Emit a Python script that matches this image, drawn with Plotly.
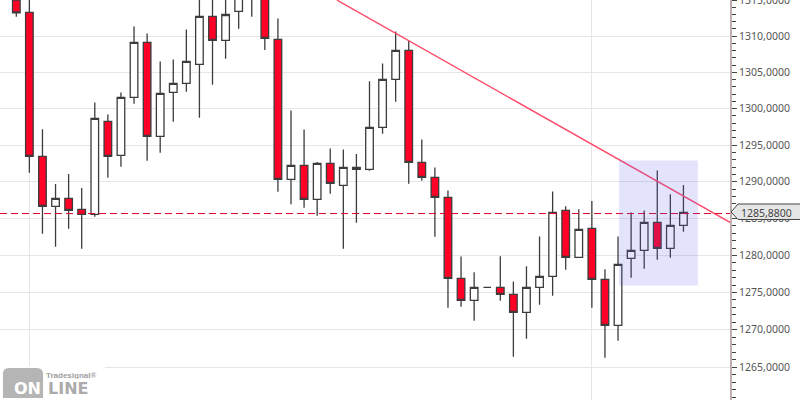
import numpy as np
import plotly.graph_objects as go

# Candle prices, one row per bar
opens = [1315.00, 1313.28, 1293.46, 1286.65, 1287.74, 1286.25, 1285.56, 1298.25, 1293.60, 1301.55,
         1309.13, 1296.20, 1302.23, 1303.47, 1306.09, 1312.73, 1309.41, 1313.42, 1316.30, 1317.00,
         1309.54, 1290.33, 1292.23, 1287.61, 1292.51, 1289.51, 1291.96, 1291.69, 1297.43, 1304.02,
         1308.02, 1292.65, 1290.60, 1287.88, 1276.91, 1273.95, 1275.69, 1275.69, 1274.76, 1272.34,
         1275.69, 1277.18, 1286.11, 1279.75, 1283.67, 1276.77, 1270.59, 1279.61, 1280.69, 1284.48,
         1280.96, 1284.07]
highs = [1316.40, 1315.50, 1297.19, 1289.69, 1291.05, 1289.14, 1300.86, 1299.21, 1302.23, 1311.34,
         1310.37, 1306.51, 1306.78, 1310.93, 1315.41, 1316.00, 1315.00, 1317.00, 1317.20, 1318.00,
         1312.45, 1299.76, 1297.15, 1292.69, 1294.55, 1294.42, 1293.78, 1303.79, 1306.23, 1310.65,
         1309.35, 1295.79, 1291.96, 1288.82, 1279.87, 1277.72, 1275.69, 1279.91, 1276.50, 1278.53,
         1282.58, 1288.69, 1286.69, 1286.25, 1287.37, 1278.13, 1282.58, 1285.84, 1286.11, 1291.55,
         1288.32, 1289.55]
lows = [1312.67, 1291.23, 1282.94, 1281.17, 1283.61, 1280.90, 1285.24, 1290.55, 1292.04, 1300.67,
        1292.86, 1293.96, 1298.20, 1302.32, 1298.75, 1303.28, 1306.86, 1311.01, 1312.67, 1308.10,
        1288.64, 1286.93, 1286.46, 1285.38, 1288.36, 1280.90, 1284.43, 1291.50, 1296.55, 1300.94,
        1289.73, 1290.13, 1282.53, 1272.95, 1273.09, 1271.20, 1275.69, 1273.89, 1266.38, 1268.79,
        1273.36, 1274.56, 1278.07, 1279.75, 1272.95, 1266.26, 1268.53, 1276.99, 1278.21, 1279.42,
        1279.69, 1283.21]
closes = [1313.23, 1293.46, 1286.65, 1287.74, 1286.11, 1285.56, 1298.66, 1293.46, 1301.55, 1309.13,
          1296.20, 1302.10, 1303.47, 1306.51, 1312.73, 1309.41, 1313.00, 1315.50, 1315.40, 1309.68,
          1290.33, 1292.23, 1287.61, 1292.51, 1289.78, 1291.96, 1291.69, 1297.43, 1304.02, 1308.02,
          1292.65, 1290.60, 1287.88, 1276.91, 1273.95, 1275.69, 1275.69, 1274.76, 1272.34, 1275.69,
          1277.18, 1285.84, 1279.75, 1283.53, 1276.77, 1270.59, 1278.80, 1280.69, 1284.48, 1280.96,
          1284.07, 1285.84]
bars = list(range(len(closes)))

last_price = 1285.88
last_line_level = 1285.68  # where the dashed line sits in the picture
price_ticks = [1265, 1270, 1275, 1280, 1285, 1290, 1295, 1300, 1305, 1310, 1315]
minor_ticks = list(range(1261, 1316))
tick_labels = [f'{p},0000' for p in price_ticks]
month_bars = [1, 44]

# trend line and highlighted box, in bar index / price
trend_x = [24.52, 54.56]
trend_y = [1314.99, 1284.48]
box_x = [46.08, 52.1]
box_y = [1275.94, 1292.89]

fig = go.Figure()

fig.add_trace(go.Candlestick(
    x=bars, open=opens, high=highs, low=lows, close=closes,
    increasing=dict(line=dict(color='#3c3c3c', width=1.3), fillcolor='#ffffff'),
    decreasing=dict(line=dict(color='#3c3c3c', width=1.3), fillcolor='#ff0026'),
    whiskerwidth=0,
    showlegend=False
))

# Trend line
fig.add_trace(go.Scatter(
    x=trend_x, y=trend_y, mode='lines',
    line=dict(color='#ff4a68', width=1.4),
    showlegend=False
))

# Last price line
fig.add_trace(go.Scatter(
    x=[-1.246, 54.56], y=[last_line_level, last_line_level], mode='lines',
    line=dict(color='#e0002a', width=1, dash='7px,4px'),
    showlegend=False
))

# Highlight box, drawn over the candles
fig.add_shape(type='rect', x0=box_x[0], x1=box_x[1], y0=box_y[0], y1=box_y[1],
              xref='x', yref='y', fillcolor='rgba(90,90,235,0.17)', line=dict(width=0), layer='above')

# Last price tag on the axis
fig.add_shape(type='path', xref='paper', yref='paper', layer='above',
              path='M 1.0014 0.47 L 1.011 0.4513 L 1.11 0.4513 L 1.11 0.49 L 1.011 0.49 Z',
              fillcolor='#e6e6e6', line=dict(color='#444444', width=1))
fig.add_annotation(x=739 / 730, y=0.4685, xref='paper', yref='paper', xanchor='left', yanchor='middle',
                   text=f'{last_price:.4f}'.replace('.', ','), showarrow=False,
                   font=dict(family='Noto Sans', size=10.5, color='#444444'))

# Logo bottom left, white patch hides the grid behind it
fig.add_shape(type='rect', xref='paper', yref='paper', x0=0, x1=105 / 730, y0=0, y1=0.085,
              fillcolor='#ffffff', line=dict(width=0), layer='above')
fig.add_shape(type='path', xref='paper', yref='paper', layer='above',
              path='M 0.004 0.005 L 0.004 0.065 Q 0.004 0.08 0.012 0.08 L 0.05 0.08 Q 0.059 0.08 0.059 0.065 L 0.059 0.005 Z',
              fillcolor='#b5b5b5', line=dict(width=0))
fig.add_annotation(x=12 / 730, y=0.03, xref='paper', yref='paper', xanchor='left', yanchor='middle',
                   text='<b>ON</b>', showarrow=False, height=12,
                   font=dict(family='DejaVu Sans', size=16, color='#ffffff'))
fig.add_annotation(x=46 / 730, y=0.03, xref='paper', yref='paper', xanchor='left', yanchor='middle',
                   text='<b>LINE</b>', showarrow=False, height=12,
                   font=dict(family='DejaVu Sans', size=16, color='#ababab'))
fig.add_annotation(x=44 / 730, y=0.0625, xref='paper', yref='paper', xanchor='left', yanchor='middle',
                   text='<b>Tradesignal®</b>', showarrow=False, height=8,
                   font=dict(family='Liberation Sans', size=8, color='#a0a0a0'))

fig.update_layout(
    width=800,
    height=400,
    margin=dict(l=0, r=70, t=0, b=0, autoexpand=False),
    paper_bgcolor='white',
    plot_bgcolor='white',
    showlegend=False,
    boxgroupgap=0.17,
    xaxis=dict(
        range=[-1.246, 54.56],
        rangeslider=dict(visible=False),
        tickvals=month_bars,
        showticklabels=False,
        ticks='',
        showgrid=True,
        gridcolor='#e6e6e6',
        gridwidth=1,
        zeroline=False
    ),
    yaxis=dict(
        type='log',
        side='right',
        range=[np.log10(1260.61), np.log10(1315.01)],
        tickvals=price_ticks,
        ticktext=tick_labels,
        ticks='outside',
        ticklen=5,
        tickcolor='#444444',
        tickfont=dict(family='Noto Sans', size=10.5, color='#555555'),
        ticklabeloverflow='allow',
        showgrid=True,
        gridcolor='#e6e6e6',
        gridwidth=1,
        zeroline=False,
        showline=True,
        linecolor='#bfaeae',
        linewidth=2,
        minor=dict(tickvals=minor_ticks, ticks='outside', ticklen=4, tickcolor='#444444', showgrid=False)
    )
)

fig.write_html("out.html", config=dict(displayModeBar=False), post_script="document.body.style.margin='0';")
